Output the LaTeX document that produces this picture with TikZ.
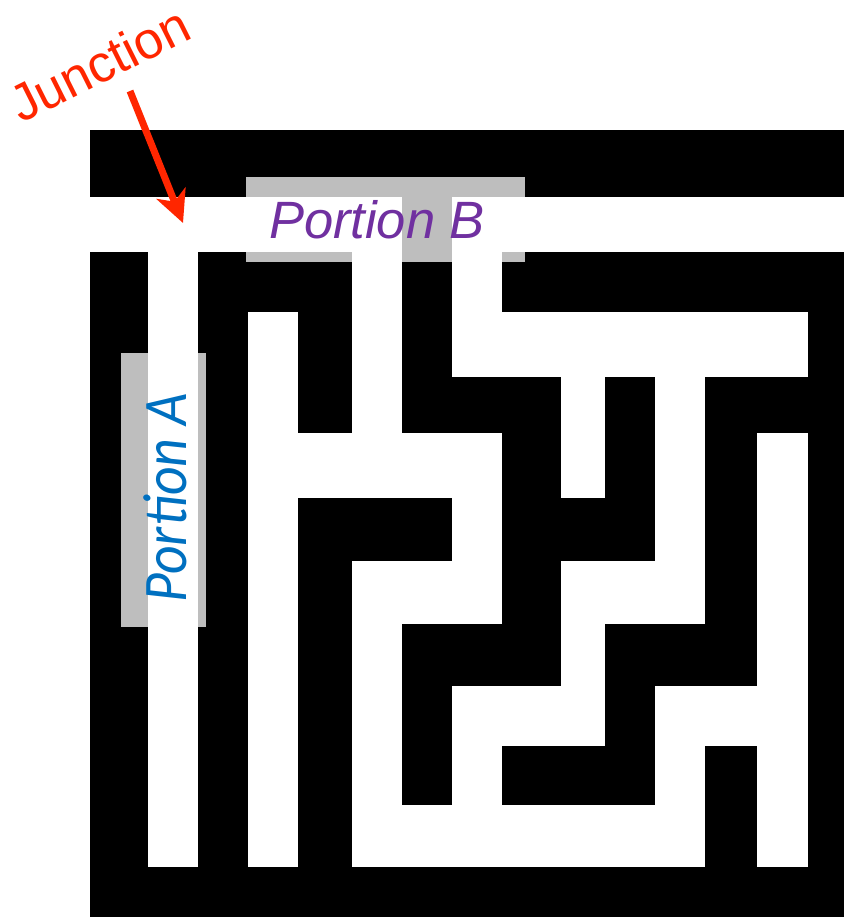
\documentclass[tikz,border=0pt]{standalone}
\usepackage{fontspec}
\setmainfont{Liberation Sans}
\newfontfamily\carlito{Carlito}
\usepackage{tikz}
\usetikzlibrary{positioning,arrows.meta}
\definecolor{junctionred}{RGB}{255,38,0}
\definecolor{portionpurple}{RGB}{112,48,160}
\definecolor{portionblue}{RGB}{0,112,192}
\definecolor{boxgray}{RGB}{190,190,190}
\tikzstyle{wall} = [fill=black]
\tikzstyle{corridor} = [fill=white]
\tikzstyle{graybox} = [fill=boxgray]
\tikzstyle{portion} = [inner sep=0pt, anchor=base]

\begin{document}
\begin{tikzpicture}[x=1pt,y=-1pt,>={Stealth[length=32pt,width=31pt,inset=9pt]}]
	\useasboundingbox (0,0) rectangle (844,917);
	\fill[wall] (90,130) rectangle (844,917);
	% boxes behind the labels
	\fill[graybox] (246,177) rectangle (525,262);
	\fill[graybox] (121,353) rectangle (206,627);
	% vertical corridors
	\foreach \xa/\xb/\ya/\yb in {148/198/197/867, 248/298/312/867, 352/402/197/433, 352/402/561/867,
		452/502/197/377, 452/502/433/624, 452/502/686/805, 561/605/377/498, 561/605/561/746,
		655/705/312/624, 655/705/686/867, 757/808/433/867}
		\fill[corridor] (\xa,\ya) rectangle (\xb,\yb);
	% horizontal corridors
	\foreach \xa/\xb/\ya/\yb in {90/844/197/252, 452/808/312/377, 248/502/433/498, 352/502/561/624,
		561/705/561/624, 452/605/686/746, 655/808/686/746, 352/705/805/867}
		\fill[corridor] (\xa,\ya) rectangle (\xb,\yb);
	\fill[graybox] (402,197) rectangle (452,252);

	\node (portionB) [portion, text=portionpurple, font=\fontsize{52.5}{60}\selectfont\itshape] at (377,239) {Portion B};
	\node (portionA) [portion, text=portionblue, rotate=90, xscale=0.9, font=\carlito\fontsize{62}{70}\selectfont\itshape] at (186,498) {Portion A};
	\node (junctionlabel) [inner sep=0pt, anchor=base west, rotate=26.6, text=junctionred, font=\fontsize{52}{60}\selectfont] at (21,124) {Junction};

	\coordinate (jtail) at (130,91);
	\coordinate (junction) at (183,223);
	\draw [->, junctionred, line width=7pt] (jtail) -- (junction);
\end{tikzpicture}
\end{document}
